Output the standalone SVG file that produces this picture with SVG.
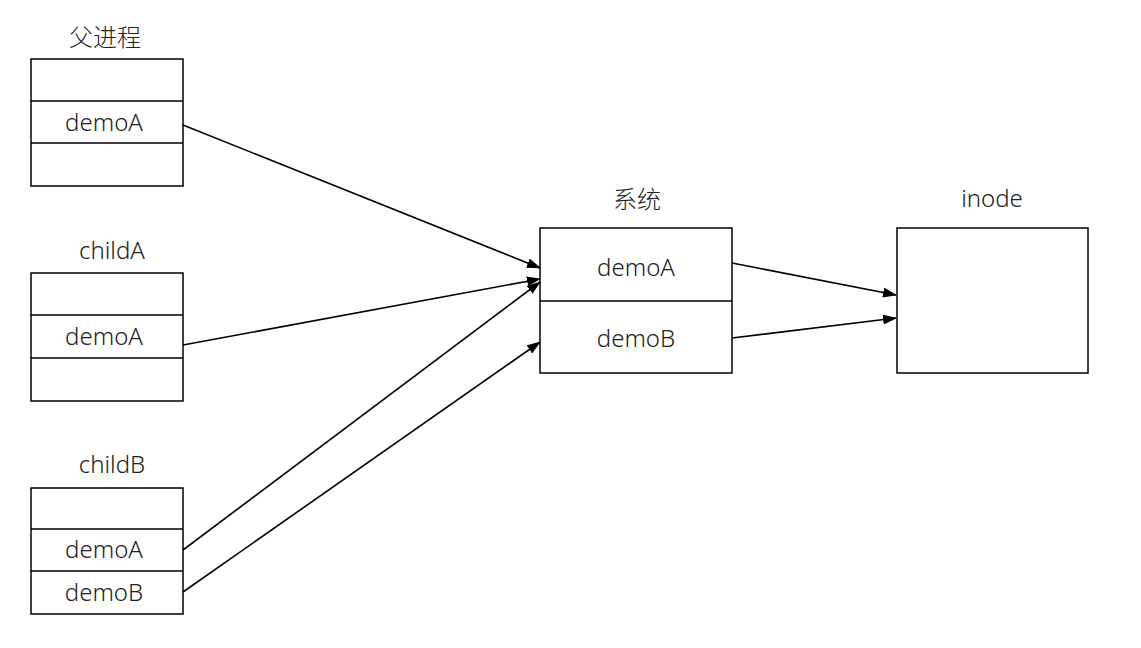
<svg xmlns="http://www.w3.org/2000/svg" width="1141" height="648" viewBox="0 0 1141 648">
<style>
.box{fill:#fff;stroke:#000;stroke-width:1.5}
.ln{stroke:#000;stroke-width:1.5}
.t{font-family:"Noto Sans","Noto Sans CJK SC",sans-serif;font-size:24px;fill:#222;text-anchor:middle;font-weight:300}
.h{font-family:"Noto Sans CJK SC","Noto Sans",sans-serif;font-size:24px;fill:#222;text-anchor:middle;font-weight:300}
.c{stroke:#000;stroke-width:1.6;fill:none;marker-end:url(#ah)}
</style>
<defs>
<marker id="ah" markerWidth="14" markerHeight="10" refX="13" refY="5" orient="auto" markerUnits="userSpaceOnUse">
<path d="M0,0 L14,5 L0,10 Z" fill="#000"/>
</marker>
</defs>
<rect width="1141" height="648" fill="#fff"/>
<g id="parent">
<text class="h" x="105" y="46">父进程</text>
<rect class="box" x="31" y="59" width="152" height="127"/>
<line class="ln" x1="31" y1="101" x2="183" y2="101"/>
<line class="ln" x1="31" y1="143" x2="183" y2="143"/>
<text class="t" x="104" y="131">demoA</text>
</g>
<g id="childA">
<text class="t" x="112" y="259">childA</text>
<rect class="box" x="31" y="273" width="152" height="128"/>
<line class="ln" x1="31" y1="315" x2="183" y2="315"/>
<line class="ln" x1="31" y1="358" x2="183" y2="358"/>
<text class="t" x="104" y="345">demoA</text>
</g>
<g id="childB">
<text class="t" x="112" y="473">childB</text>
<rect class="box" x="31" y="488" width="152" height="126"/>
<line class="ln" x1="31" y1="529" x2="183" y2="529"/>
<line class="ln" x1="31" y1="571" x2="183" y2="571"/>
<text class="t" x="104" y="558">demoA</text>
<text class="t" x="104" y="601">demoB</text>
</g>
<g id="system">
<text class="h" x="637" y="208">系统</text>
<rect class="box" x="540" y="228" width="192" height="145"/>
<line class="ln" x1="540" y1="301" x2="732" y2="301"/>
<text class="t" x="636" y="276">demoA</text>
<text class="t" x="636" y="347">demoB</text>
</g>
<g id="inode">
<text class="t" x="992" y="207">inode</text>
<rect class="box" x="897" y="228" width="191" height="145"/>
</g>
<g id="connectors">
<line class="c" x1="183" y1="125" x2="540" y2="268"/>
<line class="c" x1="183" y1="345" x2="540" y2="279"/>
<line class="c" x1="183" y1="550" x2="540" y2="282"/>
<line class="c" x1="183" y1="592" x2="540" y2="342"/>
<line class="c" x1="732" y1="263" x2="896" y2="295"/>
<line class="c" x1="732" y1="338" x2="896" y2="318"/>
</g>
</svg>
